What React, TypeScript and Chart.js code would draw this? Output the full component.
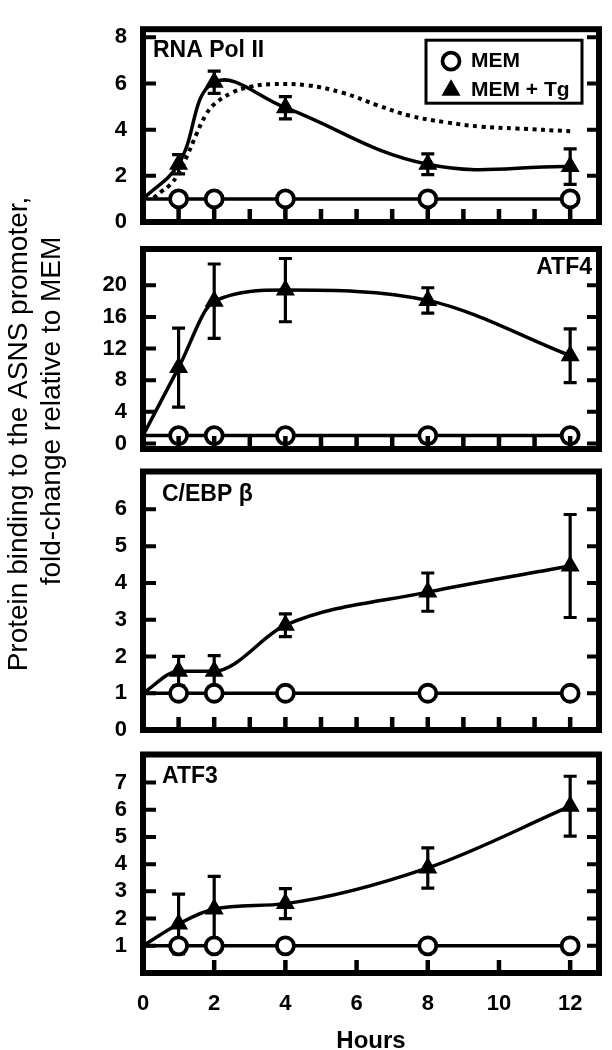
import React, { useEffect, useRef } from "react";
import { Chart, registerables } from "chart.js";

Chart.register(...registerables);

// ---------- data ----------
const hours = [0, 1, 2, 4, 8, 12];
const hourTicksMinor = [1, 2, 3, 4, 5, 6, 7, 8, 9, 10, 11, 12];
const hourTicksMajor = [0, 2, 4, 6, 8, 10, 12];

const polMem = [1, 1, 1, 1, 1, 1];
const polTg = [1, 2.5, 6.05, 4.95, 2.5, 2.4];
const polTgErr = [0, 0.42, 0.48, 0.48, 0.45, 0.77];
const polFitHours = [0.3, 0.5, 0.75, 1.0, 1.25, 1.5, 1.75, 2.0, 2.5, 3.0, 3.6, 4.6, 5.6, 6.6, 7.5, 8.5, 9.5, 10.5, 12];
const polFitValues = [1.05, 1.3, 1.6, 2.1, 2.9, 3.8, 4.6, 5.1, 5.6, 5.85, 5.97, 5.92, 5.6, 5.05, 4.6, 4.32, 4.13, 4.05, 3.93];
const polTicks = [0, 2, 4, 6, 8];

const atf4Mem = [1, 1, 1, 1, 1, 1];
const atf4Tg = [1, 9.6, 18.0, 19.4, 18.1, 11.1];
const atf4TgErr = [0, 5.0, 4.7, 4.0, 1.6, 3.4];
const atf4Ticks = [0, 4, 8, 12, 16, 20];

const cebpMem = [1, 1, 1, 1, 1, 1];
const cebpTg = [1, 1.6, 1.6, 2.85, 3.75, 4.46];
const cebpTgErr = [0, 0.4, 0.42, 0.31, 0.52, 1.4];
const cebpTicks = [0, 1, 2, 3, 4, 5, 6];

const atf3Mem = [1, 1, 1, 1, 1, 1];
const atf3Tg = [1, 1.8, 2.35, 2.55, 3.86, 6.13];
const atf3TgErr = [0, 1.1, 1.2, 0.55, 0.74, 1.1];
const atf3Ticks = [1, 2, 3, 4, 5, 6, 7];

const seriesLabels = ["MEM", "MEM + Tg"];
const yTitleLines = ["Protein binding to the ASNS promoter,", "fold-change relative to MEM"];
const xTitle = "Hours";

// ---------- layout ----------
const W = 612;
const H = 1050;
const FONT = "'Liberation Sans', Arial, Helvetica, sans-serif";
const AREA_LEFT = 143;
const AREA_RIGHT = 599;
const X_MAX = 12.81;

type Panel = {
  name: string;
  top: number;
  bottom: number;
  yMin: number;
  yMax: number;
  yTicks: number[];
  xTicks: number[];
  showX: boolean;
  mem: number[];
  tg: number[];
  tgErr: number[];
  fitX?: number[];
  fitY?: number[];
  mode: "default" | "monotone";
  tension: number;
  label: string;
  labelAlign: "left" | "right";
  labelDx: number;
  labelDy: number;
  legend?: boolean;
  yTitle?: boolean;
};

const panels: Panel[] = [
  {
    name: "pol", top: 5, bottom: 222, yMin: 0, yMax: 8.35, yTicks: polTicks, xTicks: hourTicksMinor, showX: false,
    mem: polMem, tg: polTg, tgErr: polTgErr, fitX: polFitHours, fitY: polFitValues, mode: "default", tension: 0.4,
    label: "RNA Pol II", labelAlign: "left", labelDx: 10, labelDy: 21, legend: true, yTitle: true,
  },
  {
    name: "atf4", top: 249, bottom: 449, yMin: -0.7, yMax: 24.6, yTicks: atf4Ticks, xTicks: hourTicksMinor, showX: false,
    mem: atf4Mem, tg: atf4Tg, tgErr: atf4TgErr, mode: "monotone", tension: 0,
    label: "ATF4", labelAlign: "right", labelDx: -7, labelDy: 19,
  },
  {
    name: "cebp", top: 471.5, bottom: 730, yMin: 0, yMax: 7.03, yTicks: cebpTicks, xTicks: hourTicksMinor, showX: false,
    mem: cebpMem, tg: cebpTg, tgErr: cebpTgErr, mode: "monotone", tension: 0,
    label: "C/EBP β", labelAlign: "left", labelDx: 19, labelDy: 23.5,
  },
  {
    name: "atf3", top: 754.5, bottom: 973, yMin: 0, yMax: 8.03, yTicks: atf3Ticks, xTicks: hourTicksMajor, showX: true,
    mem: atf3Mem, tg: atf3Tg, tgErr: atf3TgErr, mode: "monotone", tension: 0,
    label: "ATF3", labelAlign: "left", labelDx: 19, labelDy: 22.5,
  },
];

function drawTriangle(ctx: CanvasRenderingContext2D, x: number, y: number, r: number) {
  ctx.beginPath();
  let rad = 0;
  for (let k = 0; k < 3; k++) {
    const px = x + Math.sin(rad) * r;
    const py = y - Math.cos(rad) * r;
    if (k === 0) ctx.moveTo(px, py);
    else ctx.lineTo(px, py);
    rad += (2 * Math.PI) / 3;
  }
  ctx.closePath();
  ctx.fill();
  ctx.stroke();
}

function makeChart(canvas: HTMLCanvasElement, p: Panel) {
  const datasets: any[] = [
    {
      label: seriesLabels[0],
      data: hours.map((h, i) => ({ x: h, y: p.mem[i] })),
      borderColor: "#000",
      borderWidth: 3.5,
      pointStyle: "circle",
      pointRadius: hours.map((h) => (h === 0 ? 0 : 8.5)),
      pointBackgroundColor: "#fff",
      pointBorderColor: "#000",
      pointBorderWidth: 3.8,
      tension: 0,
      clip: false,
    },
    {
      label: seriesLabels[1],
      data: hours.map((h, i) => ({ x: h, y: p.tg[i] })),
      errors: p.tgErr,
      borderColor: "#000",
      borderWidth: 3.5,
      pointStyle: "triangle",
      pointRadius: hours.map((h) => (h === 0 ? 0 : 9.5)),
      pointBackgroundColor: "#000",
      pointBorderColor: "#000",
      pointBorderWidth: 1.5,
      cubicInterpolationMode: p.mode,
      tension: p.tension,
      clip: false,
    },
  ];
  if (p.fitX && p.fitY) {
    datasets.push({
      label: "fit",
      data: p.fitX.map((h, i) => ({ x: h, y: p.fitY![i] })),
      borderColor: "#000",
      borderWidth: 4,
      borderDash: [4, 4.5],
      borderCapStyle: "butt",
      pointRadius: 0,
      tension: 0.4,
      clip: false,
    });
  }

  const panelPlugin = {
    id: "panelDecor_" + p.name,
    beforeDatasetsDraw(chart: any) {
      const ctx = chart.ctx as CanvasRenderingContext2D;
      const xs = chart.scales.x;
      const ys = chart.scales.y;
      chart.data.datasets.forEach((ds: any) => {
        if (!ds.errors) return;
        ctx.save();
        ctx.strokeStyle = "#000";
        ctx.lineWidth = 3.2;
        ds.data.forEach((pt: any, i: number) => {
          const e = ds.errors[i];
          if (!e) return;
          const x = xs.getPixelForValue(pt.x);
          const y1 = ys.getPixelForValue(pt.y + e);
          const y2 = ys.getPixelForValue(pt.y - e);
          ctx.beginPath();
          ctx.moveTo(x, y1);
          ctx.lineTo(x, y2);
          ctx.moveTo(x - 6.5, y1);
          ctx.lineTo(x + 6.5, y1);
          ctx.moveTo(x - 6.5, y2);
          ctx.lineTo(x + 6.5, y2);
          ctx.stroke();
        });
        ctx.restore();
      });
    },
    afterDatasetsDraw(chart: any) {
      const ctx = chart.ctx as CanvasRenderingContext2D;
      const a = chart.chartArea;
      const xs = chart.scales.x;
      const ys = chart.scales.y;
      ctx.save();
      ctx.strokeStyle = "#000";
      // inward tick marks
      ctx.lineWidth = 4;
      ctx.beginPath();
      ys.ticks.forEach((t: any) => {
        const y = ys.getPixelForValue(t.value);
        ctx.moveTo(a.left, y);
        ctx.lineTo(a.left + 13, y);
        ctx.moveTo(a.right, y);
        ctx.lineTo(a.right - 12, y);
      });
      ctx.stroke();
      ctx.lineWidth = 4.5;
      ctx.beginPath();
      xs.ticks.forEach((t: any) => {
        const x = xs.getPixelForValue(t.value);
        ctx.moveTo(x, a.bottom);
        ctx.lineTo(x, a.bottom - 13);
      });
      ctx.stroke();
      // frame
      ctx.lineWidth = 6;
      ctx.strokeRect(a.left, a.top, a.right - a.left, a.bottom - a.top);

      // panel label
      ctx.fillStyle = "#000";
      ctx.font = `bold 23px ${FONT}`;
      ctx.textBaseline = "middle";
      ctx.textAlign = p.labelAlign;
      const lx = p.labelAlign === "left" ? a.left + p.labelDx : a.right + p.labelDx;
      ctx.fillText(p.label, lx, a.top + p.labelDy);

      // legend
      if (p.legend) {
        const bx = a.right - 173;
        const by = a.top + 11;
        ctx.lineWidth = 3;
        ctx.strokeRect(bx, by, 156, 63);
        const mx = bx + 25;
        ctx.lineWidth = 3.8;
        ctx.fillStyle = "#fff";
        ctx.beginPath();
        ctx.arc(mx, by + 21, 8.5, 0, Math.PI * 2);
        ctx.fill();
        ctx.stroke();
        ctx.fillStyle = "#000";
        ctx.lineWidth = 1.5;
        drawTriangle(ctx, mx, by + 50, 9.5);
        ctx.font = `bold 21px ${FONT}`;
        ctx.textAlign = "left";
        ctx.textBaseline = "middle";
        ctx.fillText(seriesLabels[0], bx + 45, by + 21);
        ctx.fillText(seriesLabels[1], bx + 45, by + 50);
      }

      // shared y title
      if (p.yTitle) {
        ctx.font = `28px ${FONT}`;
        ctx.textAlign = "center";
        ctx.textBaseline = "middle";
        ctx.fillStyle = "#000";
        ctx.save();
        ctx.translate(19, 434);
        ctx.rotate(-Math.PI / 2);
        ctx.fillText(yTitleLines[0], 0, 0);
        ctx.restore();
        ctx.save();
        ctx.translate(52, 411);
        ctx.rotate(-Math.PI / 2);
        ctx.fillText(yTitleLines[1], 0, 0);
        ctx.restore();
      }
      ctx.restore();
    },
  };

  return new Chart(canvas, {
    type: "line",
    data: { datasets },
    options: {
      responsive: false,
      maintainAspectRatio: false,
      animation: false,
      events: [],
      layout: { padding: { left: 0, top: p.top, right: W - AREA_RIGHT, bottom: 0 } },
      plugins: { legend: { display: false }, tooltip: { enabled: false } },
      scales: {
        x: {
          type: "linear",
          min: 0,
          max: X_MAX,
          grid: { display: false, drawTicks: false },
          border: { display: false },
          afterBuildTicks: (s: any) => {
            s.ticks = p.xTicks.map((v) => ({ value: v }));
          },
          afterFit: (s: any) => {
            s.height = H - p.bottom;
          },
          ticks: {
            display: p.showX,
            autoSkip: false,
            maxRotation: 0,
            padding: 18,
            color: "#000",
            font: { family: FONT, size: 22, weight: "bold" },
          },
          title: {
            display: p.showX,
            text: xTitle,
            color: "#000",
            font: { family: FONT, size: 24, weight: "bold", lineHeight: 0.7 },
            padding: { top: 0, bottom: 0 },
          },
        },
        y: {
          type: "linear",
          min: p.yMin,
          max: p.yMax,
          grid: { display: false, drawTicks: false },
          border: { display: false },
          afterBuildTicks: (s: any) => {
            s.ticks = p.yTicks.map((v) => ({ value: v }));
          },
          afterFit: (s: any) => {
            s.width = AREA_LEFT;
          },
          ticks: {
            autoSkip: false,
            padding: 16,
            color: "#000",
            font: { family: FONT, size: 22, weight: "bold" },
          },
        },
      },
    } as any,
    plugins: [panelPlugin],
  });
}

function PanelCanvas({ panel }: { panel: Panel }) {
  const ref = useRef<HTMLCanvasElement | null>(null);
  useEffect(() => {
    if (!ref.current) return;
    const chart = makeChart(ref.current, panel);
    return () => chart.destroy();
  }, [panel]);
  return (
    <canvas
      ref={ref}
      width={W}
      height={H}
      style={{ position: "absolute", left: 0, top: 0, width: W, height: H }}
    />
  );
}

export default function App() {
  return (
    <div style={{ position: "absolute", left: 0, top: 0, width: W, height: H, background: "#fff" }}>
      {panels.map((p) => (
        <PanelCanvas key={p.name} panel={p} />
      ))}
    </div>
  );
}
